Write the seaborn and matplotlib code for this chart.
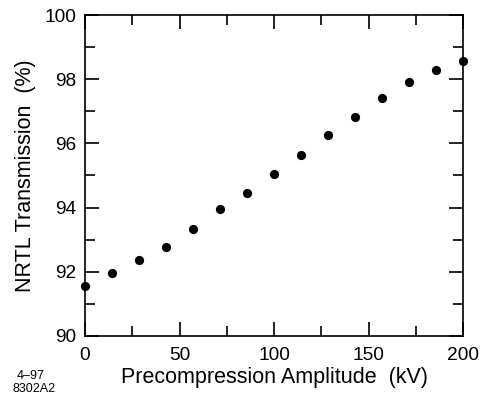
import numpy as np
import pandas as pd
import matplotlib
matplotlib.use("Agg")
import matplotlib.pyplot as plt
import seaborn as sns
from matplotlib.ticker import MultipleLocator

# precompression amplitude (kV) and NRTL transmission (%)
amplitude = [0, 14.3, 28.6, 42.9, 57.1, 71.4, 85.7, 100,
             114.3, 128.6, 142.9, 157.1, 171.4, 185.7, 200]
transmission = [91.55, 91.97, 92.38, 92.77, 93.32, 93.94, 94.45, 95.06,
                95.65, 96.27, 96.83, 97.40, 97.90, 98.30, 98.56]

df = pd.DataFrame({"amp": amplitude, "trans": transmission})

sns.set_style("ticks")
plt.rcParams['font.family'] = ['Liberation Sans', 'DejaVu Sans']
plt.rcParams['text.color'] = 'black'
plt.rcParams['axes.labelcolor'] = 'black'
plt.rcParams['xtick.color'] = 'black'
plt.rcParams['ytick.color'] = 'black'

fig = plt.figure(figsize=(4.8, 3.97), dpi=100)
ax = fig.add_axes([0.177, 0.154, 0.788, 0.808])

sns.scatterplot(x="amp", y="trans", data=df, ax=ax, color="black",
                s=44, edgecolor="black", linewidth=0, zorder=3, clip_on=False)

ax.set_xlim(0, 200)
ax.set_ylim(90, 100)
ax.xaxis.set_major_locator(MultipleLocator(50))
ax.xaxis.set_minor_locator(MultipleLocator(25))
ax.yaxis.set_major_locator(MultipleLocator(2))
ax.yaxis.set_minor_locator(MultipleLocator(1))

for sp in ax.spines.values():
    sp.set_visible(True)
    sp.set_linewidth(1.2)
    sp.set_color("black")

ax.tick_params(which="both", direction="in", top=True, right=True,
               width=1.2, color="black", labelcolor="black", labelsize=13.8)
ax.tick_params(which="major", length=10)
ax.tick_params(which="minor", length=7)
ax.tick_params(axis="x", which="major", pad=8)
ax.tick_params(axis="y", which="major", pad=6)

ax.set_xlabel("Precompression Amplitude  (kV)", fontsize=15.5, labelpad=2)
ax.set_ylabel("NRTL Transmission  (%)", fontsize=15.5, labelpad=6)

fig.text(0.035, 0.045, "4\u201397", fontsize=9)
fig.text(0.026, 0.012, "8302A2", fontsize=9)

fig.savefig("out.png", dpi=100)
